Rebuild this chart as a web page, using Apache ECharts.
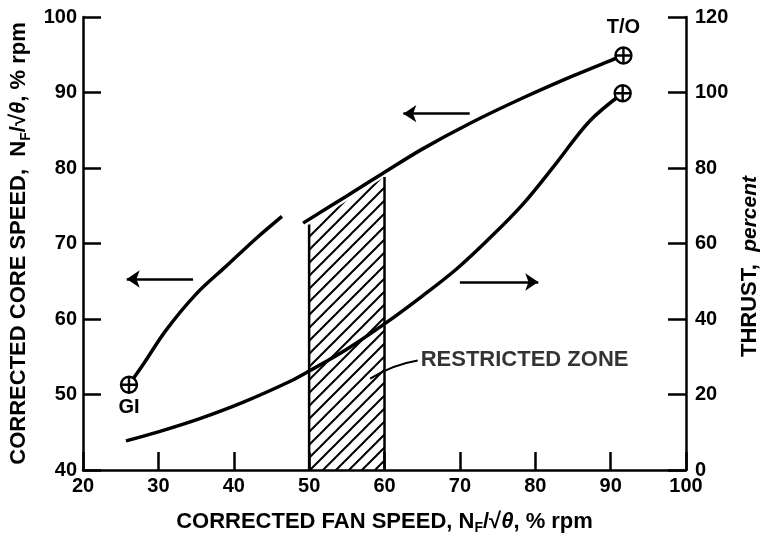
<!DOCTYPE html>
<html>
<head>
<meta charset="utf-8">
<title>Corrected core speed and thrust vs corrected fan speed</title>
<script src="https://cdn.jsdelivr.net/npm/echarts@6/dist/echarts.min.js"></script>
<style>
  html, body { margin: 0; padding: 0; background: #fff; }
  #chart { width: 760px; height: 534px; }
</style>
</head>
<body>
<div id="chart"></div>
<script>
// corrected core speed, % rpm (left axis) - low end, from GI
const coreLow = [[26.1, 51.3], [28, 54], [31, 58.5], [35, 63.3], [39, 67], [43, 70.7], [46.4, 73.6]];
// corrected core speed, % rpm (left axis) - high end, up to T/O
const coreHigh = [[49.2, 72.7], [55, 76.3], [59.8, 79.3], [65, 82.5], [71.3, 85.9],
  [78.4, 89.3], [85, 92.2], [89.9, 94.2], [91.7, 94.9]];
// thrust, percent (right axis)
const thrust = [[25.7, 7.7], [30, 10.1], [35.5, 13.6], [41.2, 17.9], [47.5, 23.5], [50, 26.2],
  [55, 32], [60, 38.7], [65.1, 46.2], [69.6, 53.3], [74, 61.5], [78.4, 70.5], [82.8, 81.3],
  [87.2, 92.4], [91.6, 99.8]];
// end point markers
const coreMarkNames = ['GI', 'T/O'];
const coreMarks = [[26.1, 51.3], [91.7, 94.9]];
const thrustMarks = [[91.6, 99.8]];
// restricted zone outline (left axis units)
const zone = [[50, 40], [50, 72.5], [60, 78.8], [60, 40]];
const zoneText = 'RESTRICTED ZONE';
const zoneTextAt = [64.8, 54.6];
const zoneLeader = [[58.1, 52.1], [64.4, 54.5]];
// arrows telling which axis a curve belongs to (tail, head)
const arrows = [
  [[34.6, 65.3], [25.8, 65.3]],
  [[71.3, 87.2], [62.5, 87.2]],
  [[70, 64.9], [80.4, 64.9]]
];

const FONT = '"Liberation Sans", Arial, Helvetica, sans-serif';

// diagonal hatch pattern for the restricted zone
function hatchPattern() {
  const s = 13;
  const c = document.createElement('canvas');
  c.width = s;
  c.height = s;
  const ctx = c.getContext('2d');
  ctx.strokeStyle = '#000';
  ctx.lineWidth = 2;
  ctx.beginPath();
  ctx.moveTo(-2, s + 2); ctx.lineTo(s + 2, -2);
  ctx.moveTo(-2, 2); ctx.lineTo(2, -2);
  ctx.moveTo(s - 2, s + 2); ctx.lineTo(s + 2, s - 2);
  ctx.stroke();
  return c;
}
const hatch = hatchPattern();

const nameRich = {
  sub: { fontSize: 14, fontWeight: 'bold', fontFamily: FONT, padding: [13, 0, 0, 0] },
  th: { fontSize: 22, fontStyle: 'italic', fontFamily: FONT },
  it: { fontSize: 21, fontStyle: 'italic', fontWeight: 'bold', fontFamily: FONT }
};
const nameStyle = { color: '#000', fontSize: 22, fontWeight: 'bold', fontFamily: FONT, rich: nameRich };
const labelStyle = { color: '#000', fontSize: 20, fontWeight: 'bold', fontFamily: FONT };
const axisLine = { show: true, onZero: false, lineStyle: { color: '#000', width: 2.5 } };
const axisTick = { show: true, inside: true, length: 18, lineStyle: { color: '#000', width: 2.5 } };

// ⊕ marker
const plusCircle = 'path://M0,8A8,8 0 1,1 16,8A8,8 0 1,1 0,8ZM1,8L15,8M8,1L8,15';

const chart = echarts.init(document.getElementById('chart'));

const curve = { type: 'line', smooth: 0.35, symbol: 'none', z: 3,
  lineStyle: { color: '#000', width: 3.5 } };
const marker = { type: 'scatter', symbol: plusCircle, symbolSize: 16, z: 5,
  itemStyle: { color: '#fff', borderColor: '#000', borderWidth: 2.4, opacity: 1 } };

chart.setOption({
  animation: false,
  backgroundColor: '#fff',
  grid: { left: 83, right: 74, top: 17, bottom: 64, outerBoundsMode: 'none' },
  xAxis: {
    type: 'value', min: 20, max: 100, interval: 10,
    name: 'CORRECTED FAN SPEED, N{sub|F}/√{th|θ}, % rpm',
    nameLocation: 'middle', nameGap: 38, nameTextStyle: nameStyle,
    axisLine: axisLine, axisTick: axisTick,
    axisLabel: Object.assign({ margin: 6 }, labelStyle),
    splitLine: { show: false }
  },
  yAxis: [
    {
      type: 'value', min: 40, max: 100, interval: 10, position: 'left',
      name: 'CORRECTED CORE SPEED,  N{sub|F}/√{th|θ}, % rpm',
      nameLocation: 'middle', nameGap: 48, nameTextStyle: nameStyle,
      axisLine: axisLine, axisTick: axisTick,
      axisLabel: Object.assign({ margin: 6 }, labelStyle),
      splitLine: { show: false }
    },
    {
      type: 'value', min: 0, max: 120, interval: 20, position: 'right',
      name: 'THRUST,  {it|percent}',
      nameLocation: 'middle', nameGap: 53,
      nameTextStyle: Object.assign({ padding: [0, 46, 0, 0] }, nameStyle),
      axisLine: axisLine, axisTick: axisTick,
      axisLabel: Object.assign({ margin: 9 }, labelStyle),
      splitLine: { show: false }
    }
  ],
  series: [
    {
      // hatched restricted zone
      type: 'custom', z: 1, yAxisIndex: 0,
      data: [0],
      renderItem: function (params, api) {
        const pts = zone.map(function (p) { return api.coord(p); });
        return {
          type: 'group',
          children: [
            { type: 'polygon', shape: { points: pts },
              style: { fill: { image: hatch, repeat: 'repeat' }, stroke: null } },
            { type: 'polyline', shape: { points: [pts[0], pts[1]] },
              style: { stroke: '#000', lineWidth: 2.5, fill: null } },
            { type: 'polyline', shape: { points: [pts[2], pts[3]] },
              style: { stroke: '#000', lineWidth: 2.5, fill: null } }
          ]
        };
      }
    },
    Object.assign({ name: 'core low', yAxisIndex: 0, data: coreLow }, curve),
    Object.assign({ name: 'core high', yAxisIndex: 0, data: coreHigh }, curve),
    Object.assign({ name: 'thrust', yAxisIndex: 1, data: thrust }, curve),
    Object.assign({
      name: 'core marks', yAxisIndex: 0,
      data: coreMarks.map(function (p, i) {
        return {
          name: coreMarkNames[i], value: p,
          label: { position: i === 0 ? 'bottom' : 'top', distance: i === 0 ? 4 : 9 }
        };
      }),
      label: { show: true, formatter: '{b}', color: '#000', fontSize: 20, fontWeight: 'bold', fontFamily: FONT }
    }, marker),
    Object.assign({ name: 'thrust marks', yAxisIndex: 1, data: thrustMarks }, marker),
    {
      type: 'lines', coordinateSystem: 'cartesian2d', yAxisIndex: 0, z: 4,
      symbol: ['none', 'arrow'], symbolSize: [9, 13],
      lineStyle: { color: '#000', width: 2.5, opacity: 1 },
      data: arrows.map(function (a) { return { coords: a }; })
    },
    {
      type: 'lines', coordinateSystem: 'cartesian2d', yAxisIndex: 0, z: 4,
      symbol: 'none',
      lineStyle: { color: '#000', width: 2, opacity: 1, curveness: 0.1 },
      data: [{ coords: zoneLeader }]
    },
    {
      type: 'scatter', yAxisIndex: 0, symbolSize: 0, z: 4,
      data: [{ name: zoneText, value: zoneTextAt }],
      label: { show: true, position: 'right', distance: 0, formatter: '{b}',
        color: '#000', fontSize: 22, fontWeight: 'bold', fontFamily: FONT }
    }
  ]
});
</script>
</body>
</html>
